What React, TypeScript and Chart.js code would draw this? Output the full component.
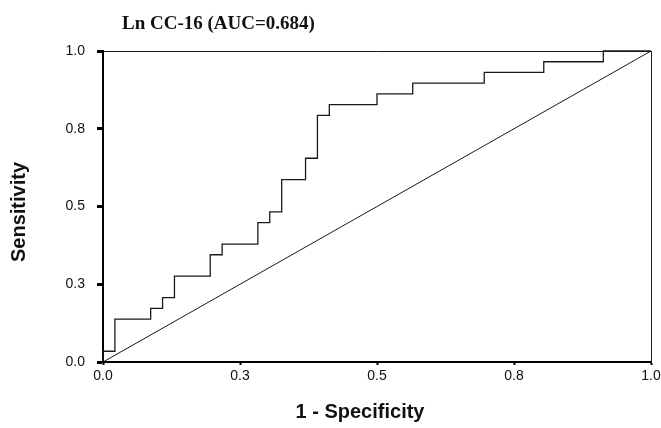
import React, { useEffect, useRef } from "react";
import { Chart, registerables } from "chart.js";

Chart.register(...registerables);

// ROC curve corner points (1 - specificity, sensitivity)
const fprValues = [0, 0, 0.0217, 0.087, 0.1087, 0.1304, 0.1957, 0.2174, 0.2826, 0.3043, 0.3261, 0.3696, 0.3913, 0.413, 0.5, 0.5652, 0.6957, 0.8043, 0.913, 1.0];
const tprValues = [0, 0.0345, 0.1379, 0.1724, 0.2069, 0.2759, 0.3448, 0.3793, 0.4483, 0.4828, 0.5862, 0.6552, 0.7931, 0.8276, 0.8621, 0.8966, 0.931, 0.9655, 1.0, 1.0];

// Reference (chance) line
const refX = [0, 1];
const refY = [0, 1];

const tickValues = [0, 0.25, 0.5, 0.75, 1.0];
const tickLabels = ["0.0", "0.3", "0.5", "0.8", "1.0"];

const chartTitle = "Ln CC-16 (AUC=0.684)";
const xTitle = "1 - Specificity";
const yTitle = "Sensitivity";

const INK = "#1a1a1a";

const textPlugin = {
  id: "rocTexts",
  afterDraw(chart: any) {
    const { ctx, chartArea } = chart;
    ctx.save();
    ctx.fillStyle = "#111";
    // chart title
    ctx.font = "bold 19px 'Liberation Serif'";
    ctx.textAlign = "left";
    ctx.textBaseline = "alphabetic";
    ctx.fillText(chartTitle, chartArea.left + 19, 29);
    // x title
    ctx.font = "bold 20px 'Liberation Sans'";
    ctx.textAlign = "center";
    ctx.textBaseline = "middle";
    ctx.fillText(xTitle, 360, 412);
    // y title
    ctx.translate(19, 212);
    ctx.rotate(-Math.PI / 2);
    ctx.fillText(yTitle, 0, 0);
    ctx.restore();
  },
};

export default function App() {
  const ref = useRef<HTMLCanvasElement | null>(null);

  useEffect(() => {
    document.body.style.margin = "0";
    const canvas = ref.current;
    if (!canvas) return;
    const setTicks = (s: any) => {
      s.ticks = tickValues.map((v) => ({ value: v }));
    };
    const chart = new Chart(canvas, {
      type: "line",
      data: {
        datasets: [
          {
            data: fprValues.map((x, i) => ({ x, y: tprValues[i] })),
            stepped: "before",
            borderColor: INK,
            borderWidth: 1.3,
            pointRadius: 0,
            fill: false,
            clip: false as any,
          },
          {
            data: refX.map((x, i) => ({ x, y: refY[i] })),
            borderColor: INK,
            borderWidth: 1,
            pointRadius: 0,
            fill: false,
          },
        ],
      },
      options: {
        responsive: false,
        animation: false,
        devicePixelRatio: 1,
        layout: { padding: 0 },
        plugins: {
          legend: { display: false },
          tooltip: { enabled: false },
          title: { display: false },
        },
        scales: {
          x: {
            type: "linear",
            position: "bottom",
            min: 0,
            max: 1,
            afterBuildTicks: setTicks,
            afterFit: (s: any) => {
              s.height = 66;
              s.paddingLeft = 0;
              s.paddingRight = 0;
            },
            ticks: {
              autoSkip: false,
              maxRotation: 0,
              padding: 3,
              color: "#111",
              font: { family: "'Liberation Sans'", size: 14 },
              callback: (_v: any, i: number) => tickLabels[i],
            },
            grid: {
              drawOnChartArea: false,
              drawTicks: true,
              tickLength: 3,
              tickWidth: 2,
              tickColor: "#000",
            },
            border: { display: true, color: "#000", width: 2 },
          },
          y: {
            type: "linear",
            position: "left",
            min: 0,
            max: 1,
            afterBuildTicks: setTicks,
            afterFit: (s: any) => {
              s.width = 103;
              s.paddingTop = 0;
              s.paddingBottom = 0;
            },
            ticks: {
              autoSkip: false,
              padding: 12,
              color: "#111",
              font: { family: "'Liberation Sans'", size: 14 },
              callback: (_v: any, i: number) => tickLabels[i],
            },
            grid: {
              drawOnChartArea: false,
              drawTicks: true,
              tickLength: 6,
              tickWidth: 3,
              tickColor: "#000",
            },
            border: { display: true, color: "#000", width: 2 },
          },
          x2: {
            type: "linear",
            position: "top",
            min: 0,
            max: 1,
            afterFit: (s: any) => {
              s.height = 51;
              s.paddingLeft = 0;
              s.paddingRight = 0;
            },
            ticks: { display: false },
            grid: { drawOnChartArea: false, drawTicks: false },
            border: { display: true, color: INK, width: 1 },
          },
          y2: {
            type: "linear",
            position: "right",
            min: 0,
            max: 1,
            afterFit: (s: any) => {
              s.width = 10;
              s.paddingTop = 0;
              s.paddingBottom = 0;
            },
            ticks: { display: false },
            grid: { drawOnChartArea: false, drawTicks: false },
            border: { display: true, color: INK, width: 1 },
          },
        },
      },
      plugins: [textPlugin],
    });
    return () => chart.destroy();
  }, []);

  return (
    <div style={{ width: 661, height: 428 }}>
      <canvas ref={ref} width={661} height={428} style={{ display: "block" }} />
    </div>
  );
}
